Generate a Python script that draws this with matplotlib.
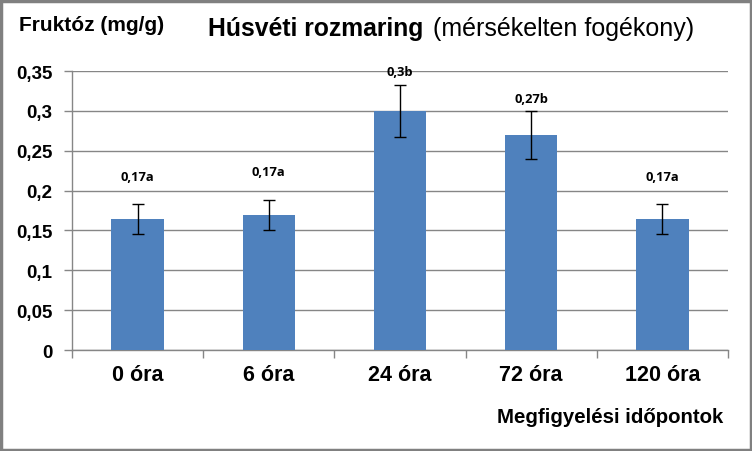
import matplotlib.pyplot as plt
import numpy as np
from matplotlib.patches import Rectangle

# Values
categories = ['0 óra', '6 óra', '24 óra', '72 óra', '120 óra']
fructose = [0.164, 0.169, 0.300, 0.270, 0.164]
errors = [0.019, 0.019, 0.033, 0.030, 0.019]
labels = ['0,17a', '0,17a', '0,3b', '0,27b', '0,17a']
yticks = [0, 0.05, 0.1, 0.15, 0.2, 0.25, 0.3, 0.35]
ytick_labels = ['0', '0,05', '0,1', '0,15', '0,2', '0,25', '0,3', '0,35']

# label offset above the bar top (data units), as drawn in the original
label_pad = [0.054, 0.055, 0.049, 0.046, 0.054]

bar_color = '#4f81bd'
grid_color = '#868686'

fig = plt.figure(figsize=(7.52, 4.52), dpi=100)
ax = fig.add_axes([72/752, 1 - 351/452, 656/752, (351 - 72)/452])

x = np.arange(len(categories))
ax.bar(x, fructose, width=0.4, color=bar_color, zorder=3)
ax.errorbar(x, fructose, yerr=errors, fmt='none', ecolor='black',
            elinewidth=1, capsize=4, capthick=1, zorder=4)

for xi, v, lab, pad in zip(x, fructose, labels, label_pad):
    ax.text(xi, v + pad, lab, ha='center', va='center', fontsize=9.3,
            fontweight='bold', family='Open Sans', zorder=5)

ax.set_xlim(-0.5, len(categories) - 0.5)
ax.set_ylim(0, 0.35)
ax.set_yticks(yticks)
ax.set_yticklabels(ytick_labels)
ax.yaxis.grid(True, color=grid_color, linewidth=1, zorder=0)
ax.set_axisbelow(True)

ax.set_xticks(x)
ax.set_xticklabels(categories)
ax.set_xticks(np.arange(-0.5, len(categories)), minor=True)
ax.tick_params(axis='x', which='major', length=0, pad=10)
ax.tick_params(axis='x', which='minor', length=6, color=grid_color, width=1)
ax.tick_params(axis='y', length=6, color=grid_color, width=1, pad=8)

for lbl in ax.get_xticklabels():
    lbl.set_fontsize(15.5)
    lbl.set_fontweight('bold')
    lbl.set_family('Liberation Sans')
for lbl in ax.get_yticklabels():
    lbl.set_fontsize(13.5)
    lbl.set_fontweight('bold')
    lbl.set_family('Liberation Sans')

for side in ['top', 'right']:
    ax.spines[side].set_visible(False)
for side in ['left', 'bottom']:
    ax.spines[side].set_color(grid_color)
    ax.spines[side].set_linewidth(1)

fig.text(19/752, 1 - 31/452, 'Fruktóz (mg/g)', fontsize=15, fontweight='bold',
         family='Liberation Sans', ha='left', va='baseline')
fig.text(208/752, 1 - 36/452, 'Húsvéti rozmaring', fontsize=17.8, fontweight='bold',
         family='Liberation Sans', ha='left', va='baseline')
fig.text(433/752, 1 - 36/452, '(mérsékelten fogékony)', fontsize=18,
         family='Liberation Sans', ha='left', va='baseline')
fig.text(723/752, 1 - 423/452, 'Megfigyelési időpontok', fontsize=14.7,
         fontweight='bold', family='Liberation Sans', ha='right', va='baseline')

# chart border
fig.patches.append(Rectangle((1.5/752, 1.5/452), 1 - 3/752, 1 - 3/452,
                             transform=fig.transFigure, fill=False,
                             edgecolor='#808080', linewidth=2.5))

fig.savefig('out.png', dpi=100)
